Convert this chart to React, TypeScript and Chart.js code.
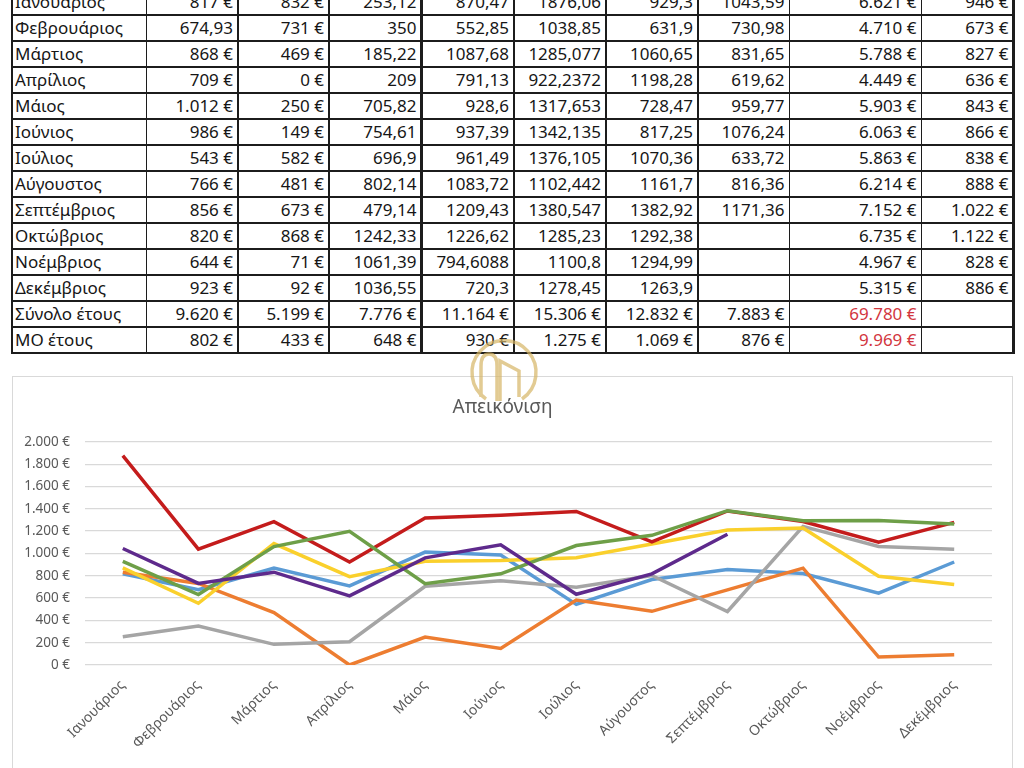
import React, { useEffect, useRef } from "react";
import { Chart, registerables } from "chart.js";

Chart.register(...registerables);

// ---------- data ----------
const months = [
  "Ιανουάριος", "Φεβρουάριος", "Μάρτιος", "Απρίλιος", "Μάιος", "Ιούνιος",
  "Ιούλιος", "Αύγουστος", "Σεπτέμβριος", "Οκτώβριος", "Νοέμβριος", "Δεκέμβριος",
];
const series1 = [817, 674.93, 868, 709, 1012, 986, 543, 766, 856, 820, 644, 923];
const series2 = [832, 731, 469, 0, 250, 149, 582, 481, 673, 868, 71, 92];
const series3 = [253.12, 350, 185.22, 209, 705.82, 754.61, 696.9, 802.14, 479.14, 1242.33, 1061.39, 1036.55];
const series4 = [870.47, 552.85, 1087.68, 791.13, 928.6, 937.39, 961.49, 1083.72, 1209.43, 1226.62, 794.6088, 720.3];
const series5 = [1876.06, 1038.85, 1285.077, 922.2372, 1317.653, 1342.135, 1376.105, 1102.442, 1380.547, 1285.23, 1100.8, 1278.45];
const series6 = [929.3, 631.9, 1060.65, 1198.28, 728.47, 817.25, 1070.36, 1161.7, 1382.92, 1292.38, 1294.99, 1263.9];
const series7: (number | null)[] = [1043.59, 730.98, 831.65, 619.62, 959.77, 1076.24, 633.72, 816.36, 1171.36, null, null, null];

const rowTotals = [6621, 4710, 5788, 4449, 5903, 6063, 5863, 6214, 7152, 6735, 4967, 5315];
const rowAverages = [946, 673, 827, 636, 843, 866, 838, 888, 1022, 1122, 828, 886];
const yearTotals = [9620, 5199, 7776, 11164, 15306, 12832, 7883];
const grandTotal = 69780;
const yearAverages = [802, 433, 648, 930, 1275, 1069, 876];
const grandAverage = 9969;

const totalLabel = "Σύνολο έτους";
const averageLabel = "ΜΟ έτους";
const chartTitle = "Απεικόνιση";

// column display formats in the sheet ("eur" = rounded with €, "raw" = plain number)
const columnFormats = ["eur", "eur", "raw", "raw", "raw", "raw", "raw"];
const rawExceptions = [[1, 0]]; // [monthIndex, seriesIndex]

const yMin = 0;
const yMax = 2000;
const yStep = 200;

const seriesColors = ["#5B9BD5", "#ED7D31", "#A5A5A5", "#FAD02C", "#C41C1C", "#6E9F48", "#5E2A8C"];

// ---------- helpers ----------
const fmtEur = (n: number) =>
  String(Math.round(n)).replace(/\B(?=(\d{3})+(?!\d))/g, ".") + " €";
const fmtRaw = (n: number) => String(n).replace(".", ",");

const FONT = "'Noto Sans', 'DejaVu Sans', sans-serif";

// layout of the sheet
const colX = [12, 146.5, 238, 329, 421.5, 514, 606, 698, 789.5, 921.5, 1013.5];
const thickCols = new Set([0, 2, 4, 10]);
const rowTop0 = -11;
const rowH = 26;
const thickRows = new Set([1, 4, 6, 9, 14]);

function Sheet() {
  const allSeries = [series1, series2, series3, series4, series5, series6, series7];
  type Cell = { text: string; align: "left" | "right"; color?: string };
  const rows: Cell[][] = [];
  months.forEach((m, r) => {
    const cells: Cell[] = [{ text: m, align: "left" }];
    allSeries.forEach((s, c) => {
      const v = s[r];
      if (v === null || v === undefined) {
        cells.push({ text: "", align: "right" });
        return;
      }
      const isRaw =
        columnFormats[c] === "raw" || rawExceptions.some(([er, ec]) => er === r && ec === c);
      cells.push({ text: isRaw ? fmtRaw(v) : fmtEur(v), align: "right" });
    });
    cells.push({ text: fmtEur(rowTotals[r]), align: "right" });
    cells.push({ text: fmtEur(rowAverages[r]), align: "right" });
    rows.push(cells);
  });
  rows.push([
    { text: totalLabel, align: "left" },
    ...yearTotals.map((v) => ({ text: fmtEur(v), align: "right" as const })),
    { text: fmtEur(grandTotal), align: "right", color: "#d2363e" },
    { text: "", align: "right" },
  ]);
  rows.push([
    { text: averageLabel, align: "left" },
    ...yearAverages.map((v) => ({ text: fmtEur(v), align: "right" as const })),
    { text: fmtEur(grandAverage), align: "right", color: "#d2363e" },
    { text: "", align: "right" },
  ]);

  const els: React.ReactNode[] = [];
  rows.forEach((cells, r) => {
    cells.forEach((cell, c) => {
      const left = colX[c];
      const w = colX[c + 1] - colX[c];
      els.push(
        <div
          key={`c${r}-${c}`}
          style={{
            position: "absolute",
            left: left + (cell.align === "left" ? 3 : 0),
            width: w - (cell.align === "left" ? 3 : 5),
            top: rowTop0 + r * rowH,
            height: rowH,
            lineHeight: rowH + "px",
            textAlign: cell.align,
            color: cell.color || "#161616",
            fontFamily: FONT,
            fontSize: 17,
            whiteSpace: "nowrap",
            overflow: "hidden",
          }}
        >
          {cell.text}
        </div>
      );
    });
  });
  const totalRows = rows.length;
  for (let i = 0; i <= totalRows; i++) {
    const t = thickRows.has(i) ? 2.5 : 1.3;
    els.push(
      <div
        key={`h${i}`}
        style={{
          position: "absolute",
          left: colX[0] - 1,
          width: colX[colX.length - 1] - colX[0] + 2,
          top: rowTop0 + i * rowH - t / 2,
          height: t,
          background: "#1c1c1c",
        }}
      />
    );
  }
  colX.forEach((x, i) => {
    const t = thickCols.has(i) ? 2.5 : 1.3;
    els.push(
      <div
        key={`v${i}`}
        style={{
          position: "absolute",
          left: x - t / 2,
          width: t,
          top: rowTop0,
          height: totalRows * rowH,
          background: "#1c1c1c",
        }}
      />
    );
  });
  return <>{els}</>;
}

function LineChart() {
  const ref = useRef<HTMLCanvasElement | null>(null);
  useEffect(() => {
    if (!ref.current) return;
    const allSeries = [series1, series2, series3, series4, series5, series6, series7];
    const chart = new Chart(ref.current, {
      type: "line",
      data: {
        labels: months,
        datasets: allSeries.map((s, i) => ({
          label: `S${i + 1}`,
          data: s,
          borderColor: seriesColors[i],
          backgroundColor: seriesColors[i],
          borderWidth: 3.5,
          pointRadius: 0,
          tension: 0,
          fill: false,
          spanGaps: false,
          order: allSeries.length - i,
        })),
      },
      options: {
        animation: false,
        responsive: false,
        layout: { padding: { top: 0, right: 20, bottom: 0, left: 0 } },
        plugins: {
          legend: { display: false },
          tooltip: { enabled: false },
          title: {
            display: true,
            text: chartTitle,
            color: "#595959",
            font: { family: FONT, size: 19, weight: "normal" },
            padding: { top: 19, bottom: 23 },
          },
        },
        scales: {
          x: {
            offset: true,
            grid: { display: false },
            border: { display: false },
            ticks: {
              color: "#595959",
              font: { family: FONT, size: 14 },
              minRotation: 45,
              maxRotation: 45,
              autoSkip: false,
              padding: 4,
            },
            afterFit: (s: any) => {
              s.height = 103;
            },
          },
          y: {
            min: yMin,
            max: yMax,
            ticks: {
              stepSize: yStep,
              color: "#595959",
              font: { family: FONT, size: 13.5 },
              padding: 15,
              callback: (v: any) => fmtEur(Number(v)),
            },
            grid: { color: "#d9d9d9", drawTicks: false, lineWidth: 1.2 },
            border: { display: false },
            afterFit: (s: any) => {
              s.width = 72;
            },
          },
        },
      },
    });
    return () => chart.destroy();
  }, []);
  return <canvas ref={ref} width={999} height={391} style={{ width: 999, height: 391, display: "block" }} />;
}

function Watermark() {
  return (
    <svg
      width={90}
      height={80}
      viewBox="0 0 90 80"
      style={{ position: "absolute", left: 459, top: 333, opacity: 0.7, pointerEvents: "none" }}
    >
      <path
        d="M 27 66 A 32 32 0 1 1 63 66"
        fill="none"
        stroke="#d6b565"
        strokeWidth={3.5}
      />
      <path d="M 22 64 L 22 33 Q 22 21 30 21 Q 38 21 38 33 L 38 68" fill="none" stroke="#d6b565" strokeWidth={3.5} />
      <path d="M 41 68 L 41 28 L 60 38 L 60 64" fill="none" stroke="#d6b565" strokeWidth={3.5} />
    </svg>
  );
}

export default function App() {
  return (
    <div
      style={{
        position: "absolute",
        left: 0,
        top: 0,
        width: 1024,
        height: 768,
        overflow: "hidden",
        background: "#ffffff",
      }}
    >
      <Sheet />
      <div
        style={{
          position: "absolute",
          left: 12,
          top: 376,
          width: 1001,
          height: 420,
          border: "1px solid #d9d9d9",
          boxSizing: "border-box",
          background: "#fff",
        }}
      >
        <LineChart />
      </div>
      <Watermark />
    </div>
  );
}
